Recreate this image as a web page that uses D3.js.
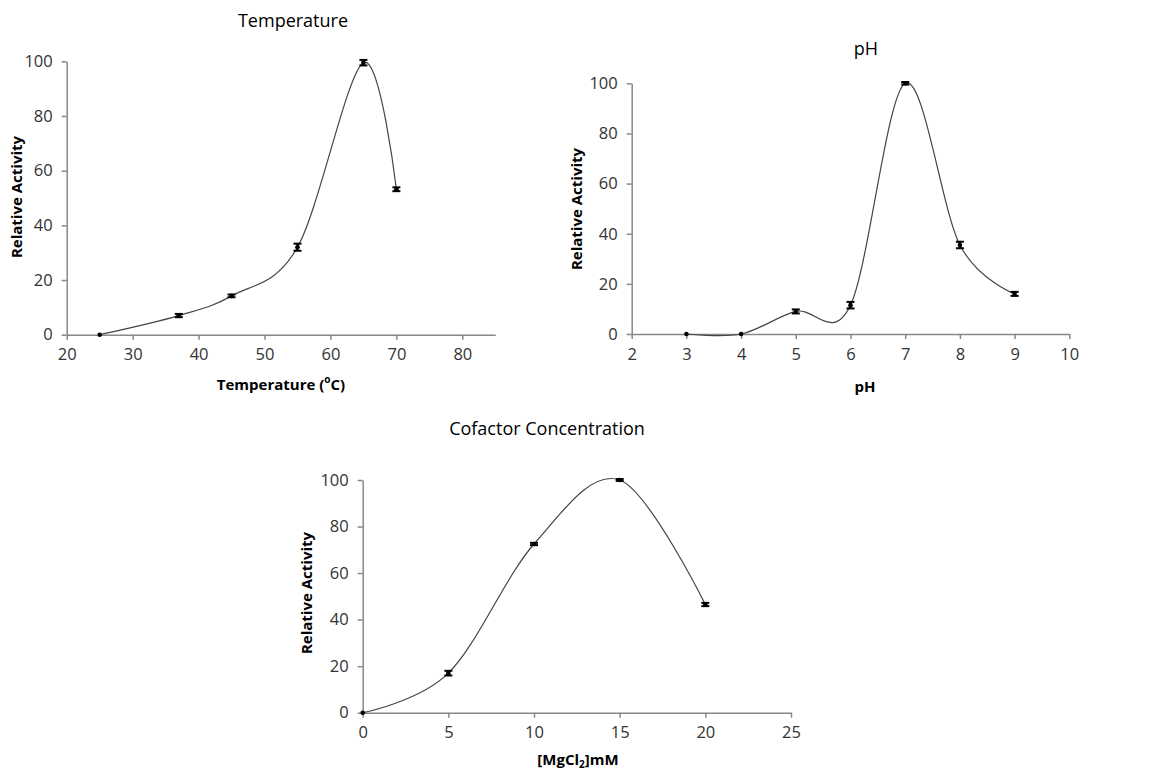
<!DOCTYPE html>
<html>
<head>
<meta charset="utf-8">
<script src="https://cdn.jsdelivr.net/npm/d3@7"></script>
<style>
  body { margin: 0; background: #fff; }
  svg text { font-family: "Open Sans", "DejaVu Sans", sans-serif; }
</style>
</head>
<body>
<div id="chart"></div>
<script>
let width = 1165,
    height = 774;

// data
const tempX = [25, 37, 45, 55, 65, 70];
const tempY = [0, 7, 14.2, 32, 99.5, 53.2];
const tempErr = [0, 0.6, 0.5, 1.3, 1.0, 0.7];
const tempTicksX = [20, 30, 40, 50, 60, 70, 80];

const phX = [3, 4, 5, 6, 7, 8, 9];
const phY = [0, 0, 9, 11.5, 100, 35.5, 16];
const phErr = [0, 0, 0.8, 1.3, 0.5, 1.3, 0.8];
const phTicksX = [2, 3, 4, 5, 6, 7, 8, 9, 10];

const mgX = [0, 5, 10, 15, 20];
const mgY = [0, 17, 72.5, 100, 46.5];
const mgErr = [0, 1.0, 0.5, 0.4, 0.7];
const mgTicksX = [0, 5, 10, 15, 20, 25];

const ticksY = [0, 20, 40, 60, 80, 100];

const svg = d3.select("#chart")
  .append("svg")
  .attr("width", width)
  .attr("height", height);

function panel(p) {
  const x = d3.scaleLinear().domain(p.xDomain).range(p.xRange);
  const y = d3.scaleLinear().domain([0, 100]).range(p.yRange);
  const g = svg.append("g");
  const data = p.xs.map((v, i) => ({ x: v, y: p.ys[i], e: p.errs[i] }));

  // axes
  const ax = g.append("g")
    .attr("transform", `translate(0,${p.yRange[0]})`)
    .call(d3.axisBottom(x).tickValues(p.ticksX).tickSize(5).tickSizeOuter(0).tickPadding(9));
  const ay = g.append("g")
    .attr("transform", `translate(${p.xRange[0]},0)`)
    .call(d3.axisLeft(y).tickValues(ticksY).tickSize(5).tickSizeOuter(0).tickPadding(9));
  [ax, ay].forEach(a => {
    a.select(".domain").attr("stroke", "#888").attr("stroke-width", 1.5);
    a.selectAll(".tick line").attr("stroke", "#888").attr("stroke-width", 1.5);
    a.selectAll(".tick text").attr("fill", "#333").style("font-size", "16.5px");
  });

  // smoothed line like the spreadsheet
  const line = d3.line()
    .x(d => x(d.x))
    .y(d => y(d.y))
    .curve(d3.curveCardinal.tension(0));
  g.append("path")
    .datum(data)
    .attr("d", line)
    .attr("fill", "none")
    .attr("stroke", "#444")
    .attr("stroke-width", 1.2);

  // error bars
  const eb = g.append("g").attr("stroke", "#000").attr("stroke-width", 2);
  data.filter(d => d.e > 0).forEach(d => {
    eb.append("line").attr("x1", x(d.x)).attr("x2", x(d.x))
      .attr("y1", y(d.y - d.e)).attr("y2", y(d.y + d.e));
    [d.y - d.e, d.y + d.e].forEach(v => {
      eb.append("line").attr("x1", x(d.x) - 4).attr("x2", x(d.x) + 4)
        .attr("y1", y(v)).attr("y2", y(v));
    });
  });

  g.append("g").selectAll("circle")
    .data(data)
    .join("circle")
    .attr("cx", d => x(d.x))
    .attr("cy", d => y(d.y))
    .attr("r", 2.3)
    .attr("fill", "#000");

  // titles
  g.append("text")
    .attr("x", p.title[1]).attr("y", p.title[2])
    .attr("text-anchor", "middle")
    .attr("dominant-baseline", "middle")
    .style("font-size", "18px").attr("fill", "#000")
    .text(p.title[0]);

  g.append("text")
    .attr("transform", `translate(${p.yLab[0]},${p.yLab[1]}) rotate(-90)`)
    .attr("text-anchor", "middle")
    .attr("dominant-baseline", "middle")
    .style("font-size", "15px").style("font-weight", "bold")
    .text("Relative Activity");

  const xl = g.append("text")
    .attr("x", p.xLab[0]).attr("y", p.xLab[1])
    .attr("text-anchor", "middle")
    .attr("dominant-baseline", "middle")
    .style("font-size", "15px").style("font-weight", "bold");
  p.xLabel(xl);
}

panel({
  xs: tempX, ys: tempY, errs: tempErr, ticksX: tempTicksX,
  xDomain: [20, 85], xRange: [66.7, 495.3], yRange: [334.7, 61.3],
  title: ["Temperature", 293, 22], yLab: [18, 197], xLab: [281, 386],
  xLabel: t => {
    t.append("tspan").text("Temperature (");
    t.append("tspan").attr("dy", -6).style("font-size", "10px").text("o");
    t.append("tspan").attr("dy", 6).text("C)");
  }
});

panel({
  xs: phX, ys: phY, errs: phErr, ticksX: phTicksX,
  xDomain: [2, 10], xRange: [631.7, 1069.3], yRange: [334, 83.3],
  title: ["pH", 866, 50], yLab: [578, 209], xLab: [865, 388],
  xLabel: t => t.text("pH")
});

panel({
  xs: mgX, ys: mgY, errs: mgErr, ticksX: mgTicksX,
  xDomain: [0, 25], xRange: [362.7, 791], yRange: [712.7, 480],
  title: ["Cofactor Concentration", 547, 430], yLab: [308, 593], xLab: [578, 761],
  xLabel: t => {
    t.append("tspan").text("[MgCl");
    t.append("tspan").attr("dy", 4).style("font-size", "10px").text("2");
    t.append("tspan").attr("dy", -4).text("]mM");
  }
});
</script>
</body>
</html>
